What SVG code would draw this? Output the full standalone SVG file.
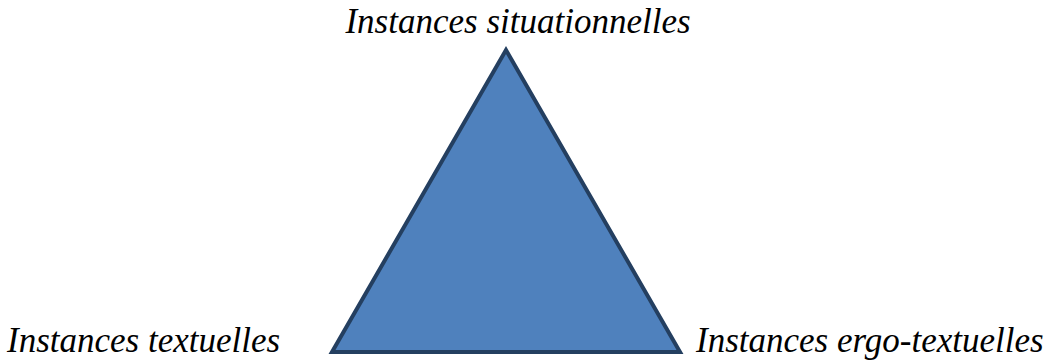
<svg xmlns="http://www.w3.org/2000/svg" width="1055" height="362" viewBox="0 0 1055 362">
<style>
text{font-family:'Liberation Serif','Times New Roman',serif;font-style:italic;font-size:35px;fill:#000}
.tri{fill:#4F81BD;stroke:#243F60;stroke-width:4;stroke-linejoin:miter}
</style>
<rect width="1055" height="362" fill="#fff"/>
<g id="triangle"><polygon class="tri" points="506,50 332,352 680,352"/></g>
<g id="situationnelles"><text x="518" y="33" text-anchor="middle">Instances situationnelles</text></g>
<g id="textuelles"><text x="7" y="352">Instances textuelles</text></g>
<g id="ergo-textuelles"><text x="696" y="352">Instances ergo-textuelles</text></g>
<g id="connectors"></g>
</svg>
